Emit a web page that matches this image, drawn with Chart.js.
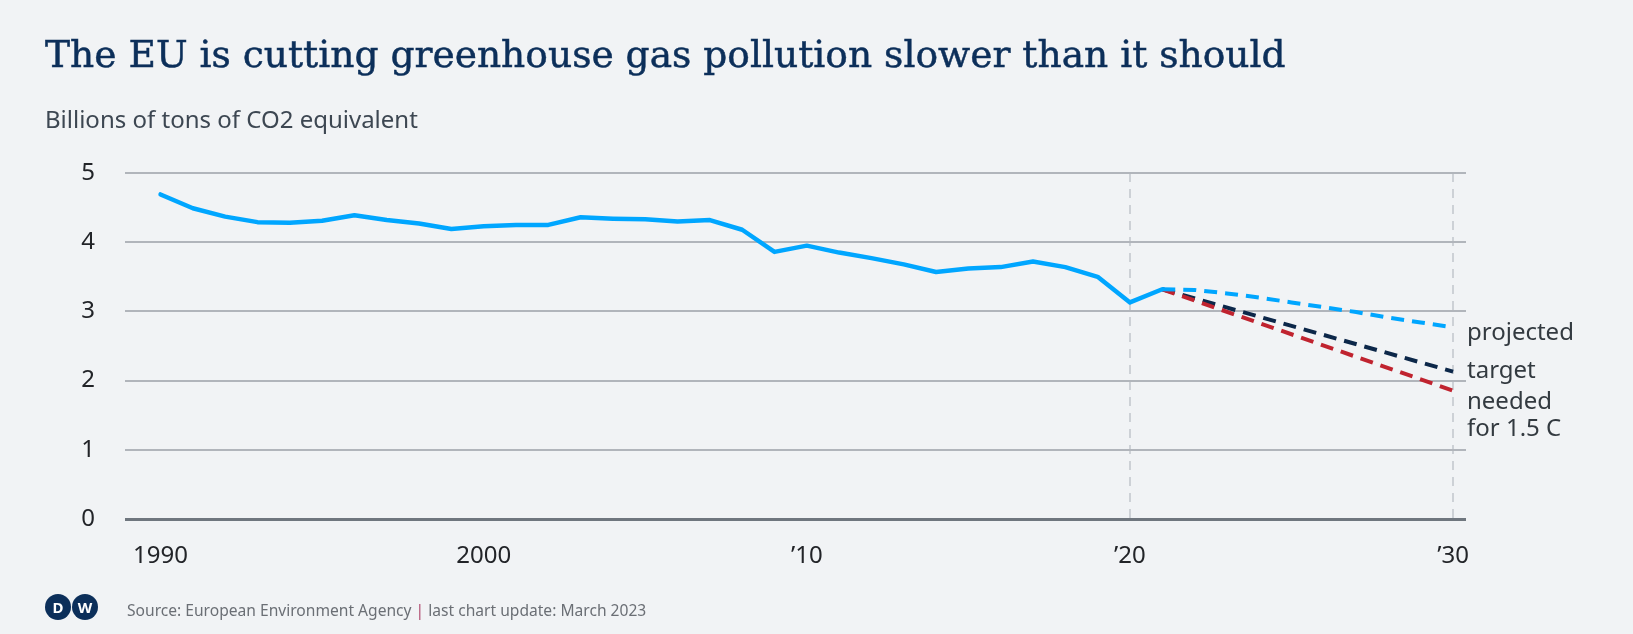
<!DOCTYPE html>
<html>
<head>
<meta charset="utf-8">
<script src="https://cdn.jsdelivr.net/npm/chart.js@4.4.1/dist/chart.umd.min.js"></script>
<style>
  html, body { margin:0; padding:0; width:1633px; height:634px; overflow:hidden; background:#f1f3f5; }
  #chartWrap { position:absolute; left:0; top:0; width:1633px; height:634px; }
  #title { position:absolute; left:45px; top:36px; font-family:"DejaVu Serif", serif; font-size:37.6px; line-height:37.6px; color:#0c2f5a; -webkit-text-stroke:0.5px #0c2f5a; white-space:nowrap; }
  #subtitle { position:absolute; left:45px; top:107px; font-family:"Noto Sans", sans-serif; font-size:24px; line-height:24px; color:#3d4752; white-space:nowrap; }
  #logo { position:absolute; left:45px; top:593px; }
  #source { position:absolute; left:127px; top:600px; font-family:"Noto Sans", sans-serif; font-size:15.6px; line-height:20px; color:#6b6f75; white-space:nowrap; }
  #source .sep { color:#b0486e; }
</style>
</head>
<body>
<div id="chartWrap"><canvas id="c" width="1633" height="634"></canvas></div>
<div id="title">The EU is cutting greenhouse gas pollution slower than it should</div>
<div id="subtitle">Billions of tons of CO2 equivalent</div>
<svg id="logo" width="56" height="28" viewBox="0 0 56 28">
  <circle cx="13" cy="14" r="13" fill="#0c2f5a"/>
  <circle cx="40" cy="14" r="13" fill="#0c2f5a"/>
  <text x="13" y="19.5" text-anchor="middle" font-family="Noto Sans" font-weight="bold" font-size="15" fill="#ffffff">D</text>
  <text x="40" y="19.5" text-anchor="middle" font-family="Noto Sans" font-weight="bold" font-size="15" fill="#ffffff">W</text>
</svg>
<div id="source">Source: European Environment Agency <span class="sep">|</span> last chart update: March 2023</div>
<script>
// ---- Data ----
const years = [1990,1991,1992,1993,1994,1995,1996,1997,1998,1999,2000,2001,2002,2003,2004,2005,2006,2007,2008,2009,2010,2011,2012,2013,2014,2015,2016,2017,2018,2019,2020,2021];
const emissions = [4.69,4.49,4.37,4.29,4.28,4.31,4.39,4.32,4.27,4.19,4.23,4.25,4.25,4.36,4.34,4.33,4.30,4.32,4.18,3.86,3.95,3.85,3.77,3.68,3.57,3.62,3.64,3.72,3.64,3.50,3.13,3.32];
const projYears = [2021,2022,2023,2024,2025,2026,2027,2028,2029,2030];
const projected = [3.32,3.31,3.26,3.20,3.13,3.06,2.99,2.91,2.84,2.77];
const targetYears = [2021,2030];
const target = [3.32,2.13];
const neededYears = [2021,2030];
const needed = [3.32,1.855];
const yTickValues = [0,1,2,3,4,5];
const xTickValues = [1990,2000,2010,2020,2030];
const xTickLabels = ['1990','2000','\u201910','\u201920','\u201930'];
const markedYears = [2020,2030];
const endLabels = [
  { dataset: 1, lines: ['projected'], dy: 6 },
  { dataset: 3, lines: ['target'], dy: 0 },
  { dataset: 2, lines: ['needed','for 1.5 C'], dy: 12 }
];

const toPts = (xs, ys) => xs.map((x, i) => ({ x: x, y: ys[i] }));

const endLabelPlugin = {
  id: 'endLabels',
  afterDatasetsDraw(chart) {
    const ctx = chart.ctx;
    const ys = chart.scales.y;
    const area = chart.chartArea;
    ctx.save();
    ctx.font = '24px "Noto Sans"';
    ctx.fillStyle = '#333a40';
    ctx.textAlign = 'left';
    ctx.textBaseline = 'middle';
    endLabels.forEach(l => {
      const d = chart.data.datasets[l.dataset].data;
      const last = d[d.length - 1];
      const y0 = ys.getPixelForValue(last.y) + l.dy;
      l.lines.forEach((t, k) => ctx.fillText(t, area.right + 1, y0 + k * 27));
    });
    ctx.restore();
  }
};

new Chart(document.getElementById('c'), {
  type: 'line',
  data: {
    datasets: [
      { label: 'emissions', data: toPts(years, emissions), borderColor: '#00a6ff', borderWidth: 4.5, pointRadius: 0, borderCapStyle: 'round', borderJoinStyle: 'round', tension: 0 },
      { label: 'projected', data: toPts(projYears, projected), borderColor: '#00a6ff', borderWidth: 4, borderDash: [13, 8], pointRadius: 0, tension: 0 },
      { label: 'needed for 1.5 C', data: toPts(neededYears, needed), borderColor: '#c0232f', borderWidth: 4, borderDash: [13, 8], pointRadius: 0 },
      { label: 'target', data: toPts(targetYears, target), borderColor: '#0c2749', borderWidth: 4, borderDash: [13, 8], pointRadius: 0 }
    ]
  },
  options: {
    responsive: false,
    animation: false,
    events: [],
    layout: { padding: { left: 0, top: 173, right: 167, bottom: 55 } },
    plugins: { legend: { display: false }, tooltip: { enabled: false }, title: { display: false } },
    scales: {
      x: {
        type: 'linear',
        min: 1988.9,
        max: 2030.4,
        afterBuildTicks: s => { s.ticks = xTickValues.map(v => ({ value: v })); },
        afterFit: s => { s.height = 60; },
        border: { display: false, dash: [9, 7] },
        grid: {
          drawTicks: false,
          lineWidth: 2,
          color: c => (c.tick && markedYears.includes(c.tick.value)) ? '#cdd1d6' : 'rgba(0,0,0,0)'
        },
        ticks: {
          padding: 23,
          color: '#222428',
          font: { family: 'Noto Sans', size: 24 },
          maxRotation: 0,
          autoSkip: false,
          callback: v => { const i = xTickValues.indexOf(v); return i >= 0 ? xTickLabels[i] : ''; }
        }
      },
      y: {
        min: 0,
        max: 5,
        afterBuildTicks: s => { s.ticks = yTickValues.map(v => ({ value: v })); },
        afterFit: s => { s.width = 125; },
        border: { display: false },
        grid: {
          drawTicks: false,
          lineWidth: c => (c.tick && c.tick.value === 0) ? 3 : 2,
          color: c => (c.tick && c.tick.value === 0) ? '#6f767e' : '#b1b5bb'
        },
        ticks: {
          padding: 30,
          color: '#222428',
          font: { family: 'Noto Sans', size: 24 }
        }
      }
    }
  },
  plugins: [endLabelPlugin]
});
</script>
</body>
</html>
